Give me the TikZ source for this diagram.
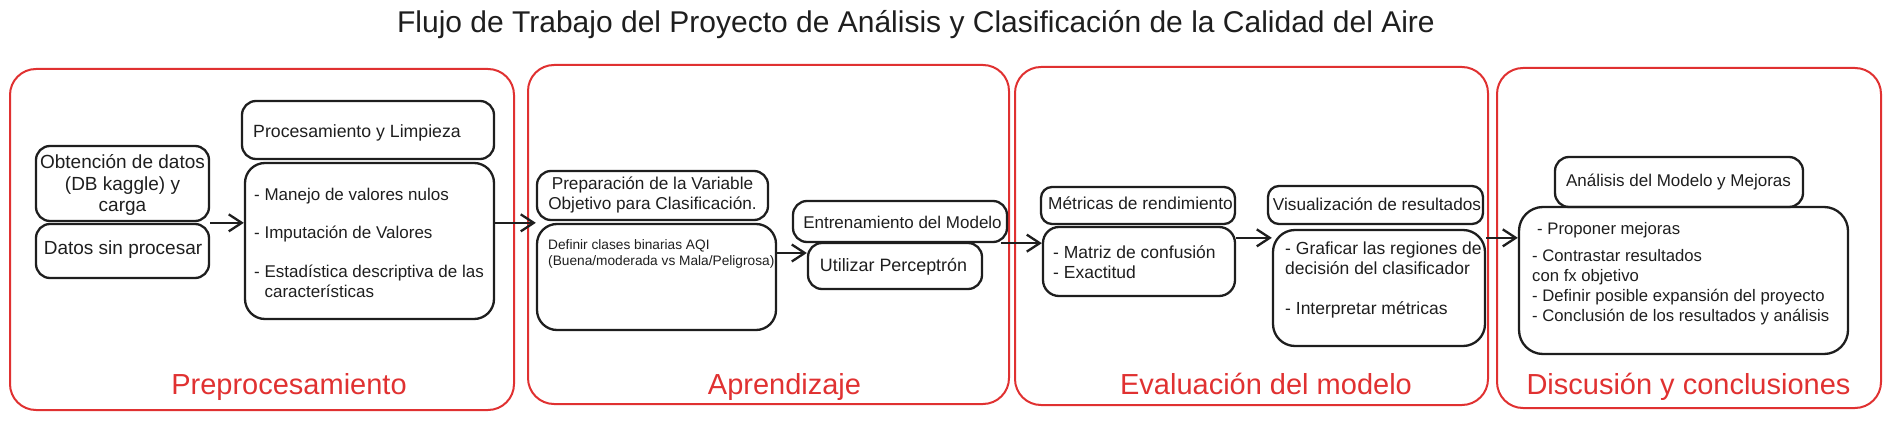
\documentclass[tikz,border=0pt]{standalone}
\usepackage{fontspec}
\setmainfont{Liberation Sans}
\usetikzlibrary{arrows.meta}
\definecolor{ink}{HTML}{1E1E1E}
\definecolor{exred}{HTML}{E03131}
\newcommand{\setfs}[2]{\fontsize{#1}{#2}\selectfont}
\begin{document}
\begin{tikzpicture}[x=1pt,y=-1pt,
 frame/.style={draw=exred, line width=2pt, rounded corners=26pt, inner sep=0pt},
 box/.style={draw=ink, line width=2.3pt, rounded corners=14pt, inner sep=0pt},
 txt/.style={inner sep=0pt, text=ink},
 lbl/.style={inner sep=0pt, text=exred, font=\setfs{29}{34}, anchor=base},
 arr/.style={draw=ink, line width=2.3pt, -{Straight Barb[length=13pt,width=17pt]}},
]
\useasboundingbox (0,0) rectangle (1890,446);
% frames
\node[frame, minimum width=504pt, minimum height=341pt] (f1) at (262,239.5) {};
\node[frame, minimum width=481pt, minimum height=339pt] (f2) at (768.5,234.5) {};
\node[frame, minimum width=473pt, minimum height=338pt] (f3) at (1251.5,236) {};
\node[frame, minimum width=384pt, minimum height=340pt] (f4) at (1689,238) {};
% boxes
\node[box, minimum width=173pt, minimum height=75pt] (obt) at (122.5,183.5) {};
\node[box, minimum width=173pt, minimum height=54pt] (dat) at (122.5,251) {};
\node[box, minimum width=252pt, minimum height=58pt] (proc) at (368,130) {};
\node[box, minimum width=249pt, minimum height=156pt, rounded corners=20pt] (lst1) at (369.5,241) {};
\node[box, minimum width=231pt, minimum height=49pt] (prep) at (652.5,195.5) {};
\node[box, minimum width=239pt, minimum height=106pt, rounded corners=20pt] (def) at (656.5,277) {};
\node[box, minimum width=214pt, minimum height=41pt] (entr) at (900,221.5) {};
\node[box, minimum width=174pt, minimum height=46pt] (util) at (895,266) {};
\node[box, minimum width=194pt, minimum height=37pt, rounded corners=11pt] (met) at (1138,205.5) {};
\node[box, minimum width=192pt, minimum height=69pt, rounded corners=16pt] (met2) at (1139,261.5) {};
\node[box, minimum width=215pt, minimum height=38pt, rounded corners=11pt] (vis) at (1375.5,205) {};
\node[box, minimum width=212pt, minimum height=116pt, rounded corners=22pt] (graf) at (1379,288) {};
\node[box, minimum width=248pt, minimum height=50pt] (an) at (1679,182) {};
\node[box, minimum width=329pt, minimum height=147pt, rounded corners=24pt] (an2) at (1683.5,280.5) {};
% title
\node[txt, font=\setfs{30}{36}] (title) at (916,25) {Flujo de Trabajo del Proyecto de Análisis y Clasificación de la Calidad del Aire};
% texts
\node[txt, align=center, font=\setfs{19}{21.5}] (tobt) at (122.5,185) {Obtención de datos\\(DB kaggle) y\\carga};
\node[txt, font=\setfs{19}{22}] (tdat) at (123,250) {Datos sin procesar};
\node[txt, font=\setfs{17.7}{21}] (tproc) at (357,133) {Procesamiento y Limpieza};
\node[txt, align=left, anchor=west, font=\setfs{17}{20}] (tlst1) at (254,243) {- Manejo de valores nulos\\[18.5pt]- Imputación de Valores\\[19pt]- Estadística descriptiva de las\\\phantom{- }características};
\node[txt, align=center, font=\setfs{17.2}{20}] (tprep) at (652.5,195) {Preparación de la Variable\\Objetivo para Clasificación.};
\node[txt, align=left, anchor=west, font=\setfs{13.7}{16.5}] (tdef) at (548,254) {Definir clases binarias AQI\\(Buena/moderada vs Mala/Peligrosa)};
\node[txt, font=\setfs{17}{20}] (tentr) at (902.5,222) {Entrenamiento del Modelo};
\node[txt, font=\setfs{17.9}{20}] (tutil) at (893.5,267) {Utilizar Perceptrón};
\node[txt, font=\setfs{17.3}{20}] (tmet) at (1140.5,203) {Métricas de rendimiento};
\node[txt, align=left, anchor=west, font=\setfs{17.5}{20}] (tmet2) at (1053,262) {- Matriz de confusión\\- Exactitud};
\node[txt, font=\setfs{17.2}{20}] (tvis) at (1377,204) {Visualización de resultados};
\node[txt, align=left, anchor=west, font=\setfs{17.5}{19.5}] (tgraf) at (1285,280) {- Graficar las regiones de\\decisión del clasificador\\[20.5pt]- Interpretar métricas};
\node[txt, font=\setfs{17}{20}] (tan) at (1678.5,182) {Análisis del Modelo y Mejoras};
\node[txt, align=left, anchor=west, font=\setfs{16.7}{20}] (tan2) at (1532,274) {\hspace*{5pt}- Proponer mejoras\\[7pt]- Contrastar resultados\\con fx objetivo\\- Definir posible expansión del proyecto\\- Conclusión de los resultados y análisis};
% section labels
\node[lbl] (l1) at (289,394) {Preprocesamiento};
\node[lbl] (l2) at (784.5,394) {Aprendizaje};
\node[lbl] (l3) at (1266,394) {Evaluación del modelo};
\node[lbl] (l4) at (1688.5,394) {Discusión y conclusiones};
% arrows
\draw[arr] (dat.north east) -- (dat.north east -| lst1.west);
\draw[arr] (lst1.east |- def.north west) -- (def.north west);
\draw[arr] ([yshift=24pt]def.east) -- ([yshift=24pt]def.east -| util.west);
\draw[arr] ([xshift=-7pt]entr.south east) -- (entr.south east -| met2.west);
\draw[arr] ([yshift=-12pt]met2.north east) -- ([yshift=-12pt]met2.north east -| graf.west);
\draw[arr] ([yshift=-9pt]graf.north east) -- ([yshift=-9pt]graf.north east -| an2.west);
\end{tikzpicture}
\end{document}
